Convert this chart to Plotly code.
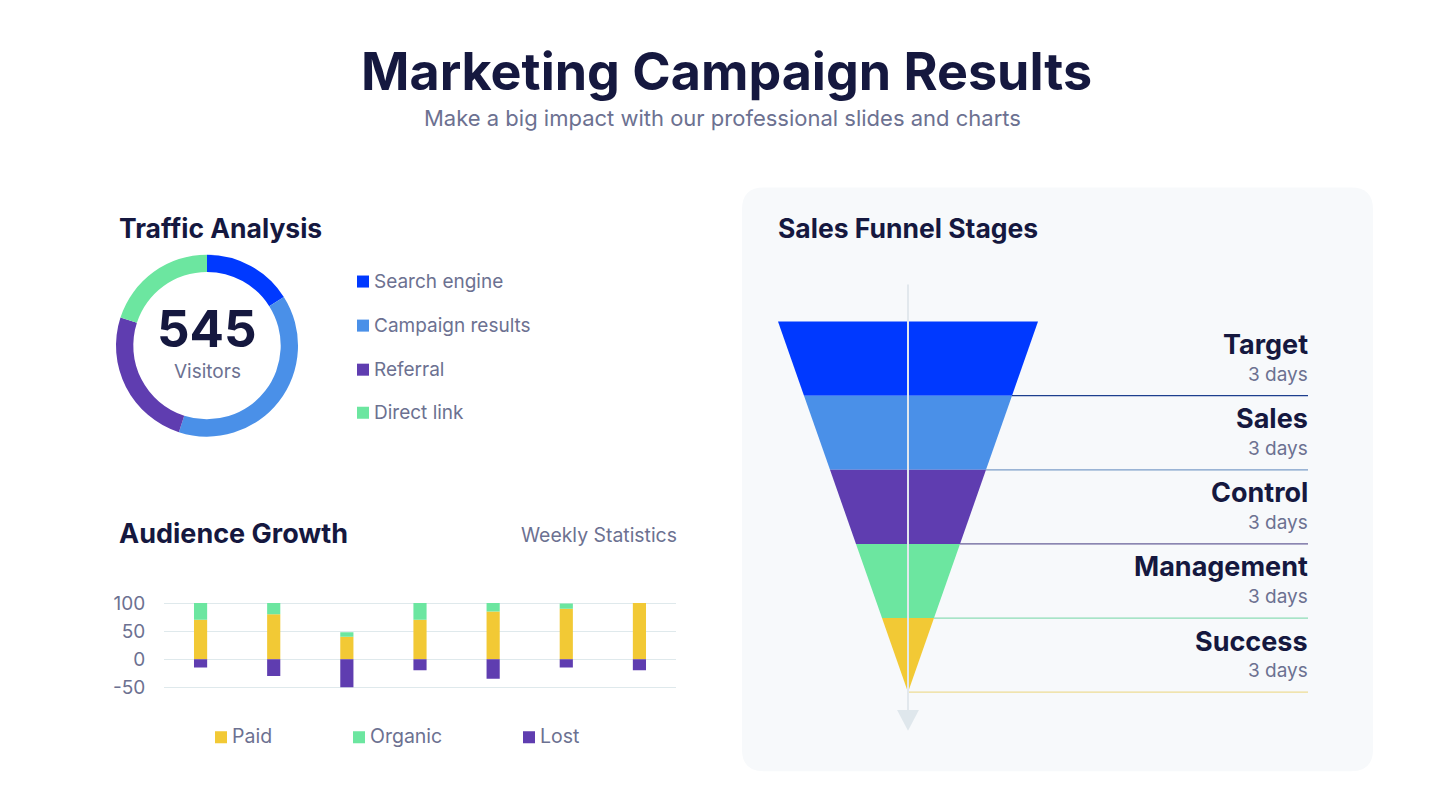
import plotly.graph_objects as go

W, H = 1445, 801


def px(x):
    return x / W


def py(y):
    # small vertical compensation measured against the rendered output
    yc = (y - 3.9) / 0.9897
    return 1 - yc / H


# ---------------- data ----------------
traffic_sources = ["Search engine", "Campaign results", "Referral", "Direct link"]
traffic_share = [16, 39, 25, 20]
traffic_colors = ["#0039ff", "#4a90e8", "#5f3db0", "#6ce6a0"]
total_visitors = 545

weeks = ["W1", "W2", "W3", "W4", "W5", "W6", "W7"]
paid = [70, 80, 40, 70, 85, 90, 100]
organic = [30, 20, 8, 30, 15, 9, 0]
lost = [-15, -30, -50, -20, -35, -15, -20]
growth_series = ["Paid", "Organic", "Lost"]
growth_colors = ["#f2c935", "#6ce6a0", "#5f3db0"]
growth_ticks = [100, 50, 0, -50]
growth_ticktext = ["100", "50", "0", "-50"]

stages = ["Target", "Sales", "Control", "Management", "Success"]
stage_days = [3, 3, 3, 3, 3]
stage_width = [100, 80, 60, 40, 20]
stage_colors = ["#0039ff", "#4a90e8", "#5f3db0", "#6ce6a0", "#f2c935"]
connector_colors = ["#1d3f8e", "#7b9dc8", "#675f98", "#8ddcb6", "#eedc95"]

NAVY = "#15183f"
GRAY = "#6c7191"
FONT = "Inter"

fig = go.Figure()

# ---------------- donut ----------------
fig.add_trace(go.Pie(
    labels=traffic_sources, values=traffic_share,
    marker=dict(colors=traffic_colors, line=dict(width=0)),
    hole=0.81, sort=False, direction="clockwise", rotation=0,
    textinfo="none", showlegend=False,
    domain=dict(x=[px(116), px(298)], y=[py(437), py(255)]),
))

# ---------------- audience growth bars ----------------
for name, vals, col in zip(growth_series, [paid, organic, lost], growth_colors):
    fig.add_trace(go.Bar(x=weeks, y=vals, name=name, marker=dict(color=col, line=dict(width=0)),
                         showlegend=False, xaxis="x", yaxis="y"))

# ---------------- funnel ----------------
n = len(stages)
for i in range(n):
    wt = stage_width[i] / 2
    wb = stage_width[i + 1] / 2 if i + 1 < n else 0
    fig.add_trace(go.Scatter(
        x=[-wt, wt, wb, -wb, -wt], y=[i, i, i + 1, i + 1, i],
        fill="toself", fillcolor=stage_colors[i], mode="lines", line=dict(width=0),
        showlegend=False, hoverinfo="skip", xaxis="x2", yaxis="y2"))

# connectors
x_label = (1308 - 908) / 2.6
for i in range(n):
    wb = stage_width[i + 1] / 2 if i + 1 < n else 0
    fig.add_trace(go.Scatter(
        x=[wb, x_label], y=[i + 1, i + 1], mode="lines",
        line=dict(color=connector_colors[i], width=1.3),
        showlegend=False, hoverinfo="skip", xaxis="x2", yaxis="y2"))

# vertical axis line and arrow
fig.add_trace(go.Scatter(x=[0, 0], y=[-0.5, 5.3], mode="lines",
                         line=dict(color="#e2e8ed", width=2),
                         showlegend=False, hoverinfo="skip", xaxis="x2", yaxis="y2"))
fig.add_trace(go.Scatter(x=[-4.2, 4.2, 0, -4.2], y=[5.24, 5.24, 5.52, 5.24], mode="lines",
                         fill="toself", fillcolor="#dfe7ec", line=dict(width=0),
                         showlegend=False, hoverinfo="skip", xaxis="x2", yaxis="y2"))

annotations = []
for i, (s, d) in enumerate(zip(stages, stage_days)):
    annotations.append(dict(x=x_label + 0.6, y=i + 0.31, xref="x2", yref="y2", text=s,
                            showarrow=False, xanchor="right", yanchor="middle",
                            font=dict(family=FONT, size=27, color=NAVY, weight=700)))
    annotations.append(dict(x=x_label + 0.6, y=i + 0.71, xref="x2", yref="y2", text=f"{d} days",
                            showarrow=False, xanchor="right", yanchor="middle",
                            font=dict(family=FONT, size=19, color=GRAY)))

# ---------------- texts ----------------
annotations += [
    dict(x=0.503, y=py(72), text="Marketing Campaign Results", xref="paper", yref="paper",
         showarrow=False, xanchor="center", yanchor="middle",
         font=dict(family=FONT, size=52, color=NAVY, weight=700)),
    dict(x=0.5, y=py(119), text="Make a big impact with our professional slides and charts",
         xref="paper", yref="paper", showarrow=False, xanchor="center", yanchor="middle",
         font=dict(family=FONT, size=22, color=GRAY)),
    dict(x=px(117), y=py(229), text="Traffic Analysis", xref="paper", yref="paper",
         showarrow=False, xanchor="left", yanchor="middle",
         font=dict(family=FONT, size=26.5, color=NAVY, weight=700)),
    dict(x=px(117), y=py(534), text="Audience Growth", xref="paper", yref="paper",
         showarrow=False, xanchor="left", yanchor="middle",
         font=dict(family=FONT, size=27, color=NAVY, weight=700)),
    dict(x=px(679), y=py(535), text="Weekly Statistics", xref="paper", yref="paper",
         showarrow=False, xanchor="right", yanchor="middle",
         font=dict(family=FONT, size=19.4, color=GRAY)),
    dict(x=px(776), y=py(229), text="Sales Funnel Stages", xref="paper", yref="paper",
         showarrow=False, xanchor="left", yanchor="middle",
         font=dict(family=FONT, size=26.5, color=NAVY, weight=700)),
    dict(x=px(207), y=py(329), text=str(total_visitors), xref="paper", yref="paper",
         showarrow=False, xanchor="center", yanchor="middle",
         font=dict(family=FONT, size=51, color=NAVY, weight=700)),
    dict(x=px(207), y=py(372), text="Visitors", xref="paper", yref="paper",
         showarrow=False, xanchor="center", yanchor="middle",
         font=dict(family=FONT, size=19, color=GRAY)),
]

shapes = []
# panel
x0, x1, y0, y1, r = 742, 1373, 188, 771, 22
rx, ry = r / W, r / H
X0, X1, Y0, Y1 = px(x0), px(x1), py(y0), py(y1)
path = (f"M {X0+rx},{Y0} L {X1-rx},{Y0} Q {X1},{Y0} {X1},{Y0-ry} "
        f"L {X1},{Y1+ry} Q {X1},{Y1} {X1-rx},{Y1} "
        f"L {X0+rx},{Y1} Q {X0},{Y1} {X0},{Y1+ry} "
        f"L {X0},{Y0-ry} Q {X0},{Y0} {X0+rx},{Y0} Z")
shapes.append(dict(type="path", path=path, xref="paper", yref="paper",
                   fillcolor="#f7f9fb", line=dict(width=0), layer="below"))

# donut legend
leg_y = [282, 326, 370, 413]
for lab, col, yy in zip(traffic_sources, traffic_colors, leg_y):
    shapes.append(dict(type="rect", xref="paper", yref="paper",
                       x0=px(357), x1=px(369), y0=py(yy + 6), y1=py(yy - 6),
                       fillcolor=col, line=dict(width=0)))
    annotations.append(dict(x=px(372), y=py(yy), text=lab, xref="paper", yref="paper",
                            showarrow=False, xanchor="left", yanchor="middle",
                            font=dict(family=FONT, size=19, color=GRAY)))

# bar legend
bar_leg_x = [215, 353, 523]
for lab, col, xx in zip(growth_series, growth_colors, bar_leg_x):
    shapes.append(dict(type="rect", xref="paper", yref="paper",
                       x0=px(xx), x1=px(xx + 12), y0=py(743), y1=py(731),
                       fillcolor=col, line=dict(width=0)))
    annotations.append(dict(x=px(xx + 15), y=py(736), text=lab, xref="paper", yref="paper",
                            showarrow=False, xanchor="left", yanchor="middle",
                            font=dict(family=FONT, size=19.5, color=GRAY)))

fig.update_layout(
    width=W, height=H, margin=dict(l=0, r=0, t=0, b=0),
    paper_bgcolor="white", plot_bgcolor="rgba(0,0,0,0)",
    barmode="relative", bargap=0.82,
    font=dict(family=FONT),
    xaxis=dict(domain=[px(164), px(676)], showticklabels=False, showgrid=False,
               zeroline=False, showline=False, fixedrange=True),
    yaxis=dict(domain=[py(695), py(595)], range=[-64.3, 114.3], tickvals=growth_ticks,
               ticktext=growth_ticktext,
               gridcolor="#dfe9ec", gridwidth=1.2, zeroline=False, showline=False,
               ticks="outside", ticklen=14, tickcolor="rgba(0,0,0,0)",
               tickfont=dict(family=FONT, size=19, color=GRAY)),
    xaxis2=dict(domain=[px(742), px(1373)], range=[(742 - 908) / 2.6, (1373 - 908) / 2.6],
                visible=False, anchor="y2"),
    yaxis2=dict(domain=[py(771), py(188)], range=[(771 - 322) / 74, (188 - 322) / 74],
                visible=False, anchor="x2"),
    annotations=annotations, shapes=shapes,
)

fig.write_html("out.html")
